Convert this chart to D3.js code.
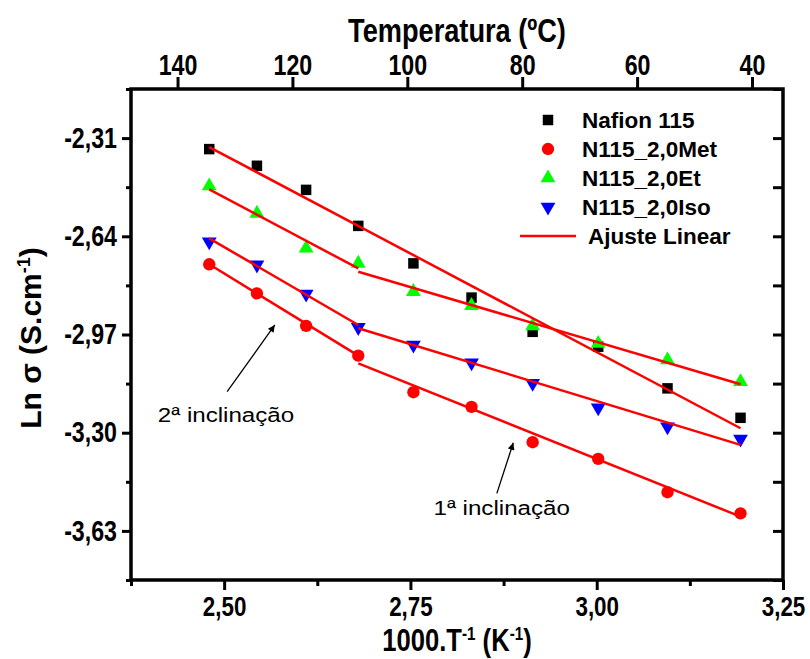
<!DOCTYPE html>
<html>
<head>
<meta charset="utf-8">
<script src="https://cdn.jsdelivr.net/npm/d3@7"></script>
<style>
body { margin: 0; background: #fff; }
text { font-family: "Liberation Sans", Arial, sans-serif; }
</style>
</head>
<body>
<svg width="810" height="659"></svg>
<script>
// x values: 1000/T (K^-1), from 130 C down to 40 C
var invT = [2.480, 2.544, 2.610, 2.680, 2.754, 2.832, 2.914, 3.002, 3.095, 3.193];

// Ln sigma for each sample
var nafion = [-2.347, -2.403, -2.484, -2.605, -2.731, -2.846, -2.961, -3.011, -3.151, -3.250];
var met    = [-2.734, -2.832, -2.941, -3.041, -3.164, -3.213, -3.332, -3.388, -3.500, -3.571];
var et     = [-2.471, -2.563, -2.680, -2.731, -2.826, -2.873, -2.941, -3.000, -3.056, -3.129];
var iso    = [-2.658, -2.736, -2.834, -2.946, -3.005, -3.065, -3.134, -3.216, -3.280, -3.321];

// linear fits, each segment [x0, y0, x1, y1]
var fitNafion = [[2.480, -2.340, 3.193, -3.285]];
var fitMet    = [[2.480, -2.734, 2.680, -3.041], [2.680, -3.067, 3.193, -3.582]];
var fitEt     = [[2.480, -2.482, 2.680, -2.748], [2.680, -2.759, 3.193, -3.137]];
var fitIso    = [[2.480, -2.647, 2.680, -2.938], [2.680, -2.949, 3.193, -3.341]];

// ticks
var xTicks = [2.50, 2.75, 3.00, 3.25];
var xMinor = [2.375, 2.625, 2.875, 3.125];
var yTicks = [-2.31, -2.64, -2.97, -3.30, -3.63];
var yMinor = [-2.145, -2.475, -2.805, -3.135, -3.465, -3.795];
var tempTicks = [140, 120, 100, 80, 60, 40];

// annotations: text position, arrow tail, arrow tip (data units)
var notes = [
  { label: "2\u00aa inclina\u00e7\u00e3o", x: 2.411, y: -3.263, x0: 2.504, y0: -3.162, x1: 2.568, y1: -2.938 },
  { label: "1\u00aa inclina\u00e7\u00e3o", x: 2.781, y: -3.577, x0: 2.866, y0: -3.504, x1: 2.888, y1: -3.334 }
];

var series = [
  { name: "Nafion 115",  vals: nafion, color: "#000000", type: "square" },
  { name: "N115_2,0Met", vals: met,    color: "#ff0000", type: "circle" },
  { name: "N115_2,0Et",  vals: et,     color: "#00ff00", type: "up" },
  { name: "N115_2,0Iso", vals: iso,    color: "#0000ff", type: "down" }
];
var fits = [fitNafion, fitMet, fitEt, fitIso];

var margin = {top: 89, right: 27, bottom: 79, left: 131},
  width = 810 - margin.left - margin.right,
  height = 659 - margin.top - margin.bottom;

var svg = d3.select("svg")
  .append("g")
  .attr("transform", "translate(" + margin.left + "," + margin.top + ")");

var x = d3.scaleLinear().domain([2.375, 3.25]).range([0, width]);
var y = d3.scaleLinear().domain([-3.795, -2.145]).range([height, 0]);
var tx = d3.scaleLinear().domain([148.1, 34.6]).range([0, width]);

function comma(d) { return d.toFixed(2).replace(".", ","); }

// bottom axis
var gx = svg.append("g").attr("transform", "translate(0," + height + ")")
  .call(d3.axisBottom(x).tickValues(xTicks).tickSize(10).tickPadding(6).tickFormat(comma));
svg.append("g").attr("transform", "translate(0," + height + ")")
  .call(d3.axisBottom(x).tickValues(xMinor).tickSize(6).tickFormat(""));

// left axis
var gy = svg.append("g")
  .call(d3.axisLeft(y).tickValues(yTicks).tickSize(9).tickFormat(comma));
svg.append("g")
  .call(d3.axisLeft(y).tickValues(yMinor).tickSize(5).tickFormat(""));

// right axis, inward ticks
svg.append("g").attr("transform", "translate(" + width + ",0)")
  .call(d3.axisRight(y).tickValues(yTicks.concat(yMinor)).tickSize(-10).tickFormat(""));

// top axis (temperature)
var gt = svg.append("g")
  .call(d3.axisTop(tx).tickValues(tempTicks).tickSize(12).tickPadding(2));

svg.selectAll(".domain").remove();
svg.selectAll(".tick line").attr("stroke", "#000").attr("stroke-width", 3);
svg.selectAll(".tick text").attr("fill", "#000").style("font-size", "29px").style("font-weight", "bold");

gx.selectAll(".tick text").style("font-size", "28px").attr("transform", "scale(0.8,1)");
gt.selectAll(".tick text").attr("transform", "scale(0.8,1)");
gy.selectAll(".tick text").attr("x", -14 / 0.8).attr("transform", "scale(0.8,1)");

// frame
svg.append("rect")
  .attr("width", width).attr("height", height)
  .attr("fill", "none").attr("stroke", "#000").attr("stroke-width", 3.5);

function symFor(t) {
  if (t === "square") return d3.symbol().type(d3.symbolSquare).size(110)();
  if (t === "circle") return d3.symbol().type(d3.symbolCircle).size(120)();
  return d3.symbol().type(d3.symbolTriangle).size(95)();
}

// markers
series.forEach(function(s) {
  svg.append("g").selectAll("path")
    .data(s.vals)
    .enter().append("path")
    .attr("d", symFor(s.type))
    .attr("transform", function(d, i) {
      return "translate(" + x(invT[i]) + "," + y(d) + ")" + (s.type === "down" ? " rotate(180)" : "");
    })
    .style("fill", s.color);
});

// fit lines
fits.forEach(function(f) {
  svg.append("g").selectAll("line")
    .data(f)
    .enter().append("line")
    .attr("x1", function(d) { return x(d[0]); })
    .attr("y1", function(d) { return y(d[1]); })
    .attr("x2", function(d) { return x(d[2]); })
    .attr("y2", function(d) { return y(d[3]); })
    .attr("stroke", "#ff0000")
    .attr("stroke-width", 2.5);
});

// annotations
var defs = d3.select("svg").append("defs");
defs.append("marker")
  .attr("id", "arrow")
  .attr("viewBox", "0 0 10 10")
  .attr("refX", 10).attr("refY", 5)
  .attr("markerWidth", 11).attr("markerHeight", 7)
  .attr("markerUnits", "userSpaceOnUse")
  .attr("orient", "auto")
  .append("path").attr("d", "M0,0L10,5L0,10Z").attr("fill", "#000");

notes.forEach(function(n) {
  svg.append("line")
    .attr("x1", x(n.x0)).attr("y1", y(n.y0))
    .attr("x2", x(n.x1)).attr("y2", y(n.y1))
    .attr("stroke", "#000").attr("stroke-width", 1.3)
    .attr("marker-end", "url(#arrow)");
  svg.append("text")
    .attr("transform", "translate(" + x(n.x) + "," + y(n.y) + ") scale(1.15,1)")
    .style("font-size", "21px")
    .text(n.label);
});

// legend (absolute page coords)
var root = d3.select("svg");
var legend = root.selectAll(".legend")
  .data(series)
  .enter().append("g")
  .attr("class", "legend")
  .attr("transform", function(d, i) { return "translate(548," + (120 + i * 29) + ")"; });

legend.append("path")
  .attr("d", function(d) { return symFor(d.type); })
  .attr("transform", function(d) { return d.type === "down" ? "rotate(180)" : null; })
  .style("fill", function(d) { return d.color; });

legend.append("text")
  .attr("x", 34)
  .attr("dy", "0.35em")
  .style("font-size", "22.5px")
  .style("font-weight", "bold")
  .text(function(d) { return d.name; });

root.append("line")
  .attr("x1", 520).attr("x2", 576)
  .attr("y1", 236).attr("y2", 236)
  .attr("stroke", "#ff0000").attr("stroke-width", 2.5);
root.append("text")
  .attr("x", 588).attr("y", 236).attr("dy", "0.35em")
  .style("font-size", "22.5px").style("font-weight", "bold")
  .text("Ajuste Linear");

// titles
root.append("text")
  .attr("transform", "translate(457,42) scale(0.8,1)")
  .attr("text-anchor", "middle")
  .style("font-size", "34px").style("font-weight", "bold")
  .text("Temperatura (\u00baC)");

var xt = root.append("text")
  .attr("transform", "translate(457,651) scale(0.8,1)")
  .attr("text-anchor", "middle")
  .style("font-size", "32px").style("font-weight", "bold");
xt.append("tspan").text("1000.T");
xt.append("tspan").attr("dy", -11).style("font-size", "19px").text("-1");
xt.append("tspan").attr("dy", 11).text(" (K");
xt.append("tspan").attr("dy", -11).style("font-size", "19px").text("-1");
xt.append("tspan").attr("dy", 11).text(")");

var yt = root.append("text")
  .attr("transform", "translate(41,338) rotate(-90)")
  .attr("text-anchor", "middle")
  .style("font-size", "30px").style("font-weight", "bold");
yt.append("tspan").text("Ln \u03c3 (S.cm");
yt.append("tspan").attr("dy", -11).style("font-size", "18px").text("-1");
yt.append("tspan").attr("dy", 11).text(")");
</script>
</body>
</html>
